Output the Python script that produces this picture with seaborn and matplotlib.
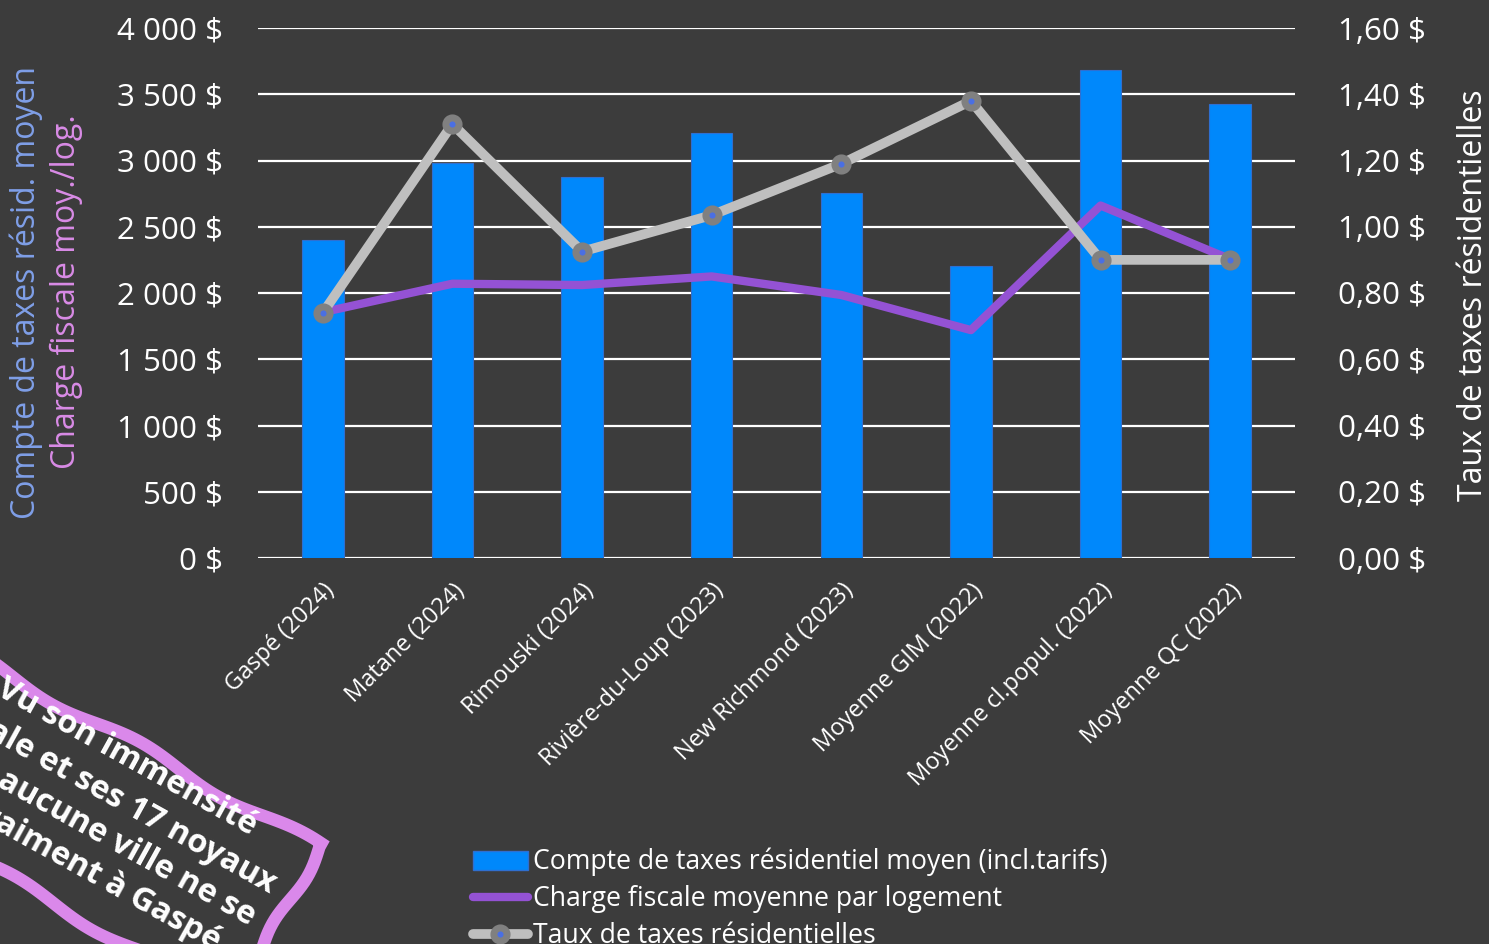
import numpy as np
import pandas as pd
import matplotlib
matplotlib.use("Agg")
import matplotlib.pyplot as plt
import seaborn as sns
from matplotlib.patches import Polygon, Patch
from matplotlib.lines import Line2D

# ---------------- data ----------------
categories = ["Gaspé (2024)", "Matane (2024)", "Rimouski (2024)", "Rivière-du-Loup (2023)",
              "New Richmond (2023)", "Moyenne GIM (2022)", "Moyenne cl.popul. (2022)",
              "Moyenne QC (2022)"]
compte = [2400, 2980, 2875, 3210, 2755, 2205, 3685, 3430]
charge = [1855, 2070, 2060, 2125, 1985, 1720, 2660, 2255]
taux = [0.74, 1.31, 0.925, 1.035, 1.19, 1.38, 0.90, 0.90]

left_ticks = [0, 500, 1000, 1500, 2000, 2500, 3000, 3500, 4000]
left_ticklabels = ["0 $", "500 $", "1 000 $", "1 500 $", "2 000 $", "2 500 $", "3 000 $", "3 500 $", "4 000 $"]
right_ticks = [0, 0.2, 0.4, 0.6, 0.8, 1.0, 1.2, 1.4, 1.6]
right_ticklabels = ["0,00 $", "0,20 $", "0,40 $", "0,60 $", "0,80 $", "1,00 $", "1,20 $", "1,40 $", "1,60 $"]

legend_labels = ["Compte de taxes résidentiel moyen (incl.tarifs)",
                 "Charge fiscale moyenne par logement",
                 "Taux de taxes résidentielles"]
banner_lines = ["Vu son immensité", "territoriale et ses 17 noyaux",
                "villageois, aucune ville ne se", "compare vraiment à Gaspé"]

# ---------------- style ----------------
BG = "#3c3c3c"
BLUE = "#0088fb"
PURPLE = "#9452d4"
GRAY = "#bfbfbf"
sns.set_theme(style="dark")
plt.rcParams["font.family"] = ["Open Sans", "DejaVu Sans"]

W, H = 1489, 944
fig = plt.figure(figsize=(W / 100, H / 100), dpi=100, facecolor=BG)
ax = fig.add_axes([258 / W, 1 - 558 / H, (1295 - 258) / W, (558 - 28) / H])
ax.set_facecolor(BG)

df = pd.DataFrame({"cat": categories, "compte": compte, "charge": charge, "taux": taux,
                   "pos": np.arange(len(categories))})

sns.barplot(data=df, x="cat", y="compte", color=BLUE, width=0.32, saturation=1,
            edgecolor="#2f6fd0", linewidth=0.8, ax=ax, zorder=2)
sns.lineplot(data=df, x="pos", y="charge", color=PURPLE, lw=6, sort=False, ax=ax, zorder=3)

ax.set_ylim(0, 4000)
ax.set_xlim(-0.5, len(categories) - 0.5)
ax.set_yticks(left_ticks)
ax.set_yticklabels(left_ticklabels, color="white", fontsize=22.5)
ax.set_xticks(np.arange(len(categories)))
ax.set_xticklabels(categories, rotation=45, ha="right", rotation_mode="anchor",
                   color="white", fontsize=17)
ax.tick_params(axis="y", length=0, pad=25)
ax.tick_params(axis="x", length=0, pad=15)
ax.grid(axis="y", color="white", lw=1.6, zorder=0)
ax.grid(axis="x", visible=False)
ax.set_axisbelow(True)
for s in ax.spines.values():
    s.set_visible(False)
ax.set_xlabel("")
ax.set_ylabel("")

ax2 = ax.twinx()
sns.lineplot(data=df, x="pos", y="taux", color=GRAY, lw=7, sort=False, ax=ax2,
             marker="o", markersize=9.5, markerfacecolor="#4a6fe3",
             markeredgecolor="#808080", markeredgewidth=5, zorder=4)
ax2.set_ylim(0, 1.6)
ax2.set_yticks(right_ticks)
ax2.set_yticklabels(right_ticklabels, color="white", fontsize=22.5)
ax2.tick_params(axis="y", length=0, pad=31)
for s in ax2.spines.values():
    s.set_visible(False)
ax2.set_ylabel("")
ax2.grid(False)
ax2.set_xlim(-0.5, len(categories) - 0.5)

# axis titles
fig.text(26 / W, 1 - 292 / H, "Compte de taxes résid. moyen", rotation=90, color="#7f9fe8",
         fontsize=23, ha="center", va="center")
fig.text(66 / W, 1 - 292 / H, "Charge fiscale moy./log.", rotation=90, color="#d98be6",
         fontsize=23, ha="center", va="center")
fig.text(1474 / W, 1 - 295 / H, "Taux de taxes résidentielles", rotation=90, color="white",
         fontsize=23, ha="center", va="center")

# legend
handles = [Patch(facecolor=BLUE, edgecolor="#2f6fd0"),
           Line2D([], [], color=PURPLE, lw=6),
           Line2D([], [], color=GRAY, lw=7, marker="o", markersize=9.5,
                  markerfacecolor="#4a6fe3", markeredgecolor="#808080", markeredgewidth=5)]
fig.legend(handles, legend_labels, loc="upper left", bbox_to_anchor=(473 / W, 1 - 848 / H),
           frameon=False, fontsize=19.2, labelcolor="white", handlelength=2.05,
           handletextpad=0.2, labelspacing=0.33, borderaxespad=0, borderpad=0)

# decorative banner (rotated, wavy border)
ang = np.deg2rad(29)
c, s = np.cos(ang), np.sin(ang)


def to_fig(u, v):
    x = u * c - v * s
    y = u * s + v * c
    return np.column_stack([x / W, 1 - y / H])


u_top = np.linspace(150, 690, 120)
v_top = 586 + 5 * np.sin(2 * np.pi * (u_top - 150) / 190)
v_right = np.linspace(586, 770, 40)
u_right = 690 + 4 * np.sin(2 * np.pi * (v_right - 586) / 120)
u_bot = np.linspace(690, 150, 120)
v_bot = 764 + 5 * np.sin(2 * np.pi * (u_bot - 150) / 190 + 1.5)
pts = np.vstack([to_fig(u_top, v_top), to_fig(u_right, v_right), to_fig(u_bot, v_bot)])
fig.add_artist(Polygon(pts, closed=True, facecolor=BG, edgecolor="#da88ea", lw=9,
                       transform=fig.transFigure, zorder=5))

ends = [(624, 610), (669, 651), (667, 689), (648, 728)]
for line, (u, v) in zip(banner_lines, ends):
    xy = to_fig(np.array([u]), np.array([v]))[0]
    fig.text(xy[0], xy[1], line, rotation=-29, rotation_mode="anchor", ha="right",
             va="baseline", color="white", fontsize=23.5, fontweight="bold", zorder=6)

fig.savefig("out.png", dpi=100, facecolor=BG)
